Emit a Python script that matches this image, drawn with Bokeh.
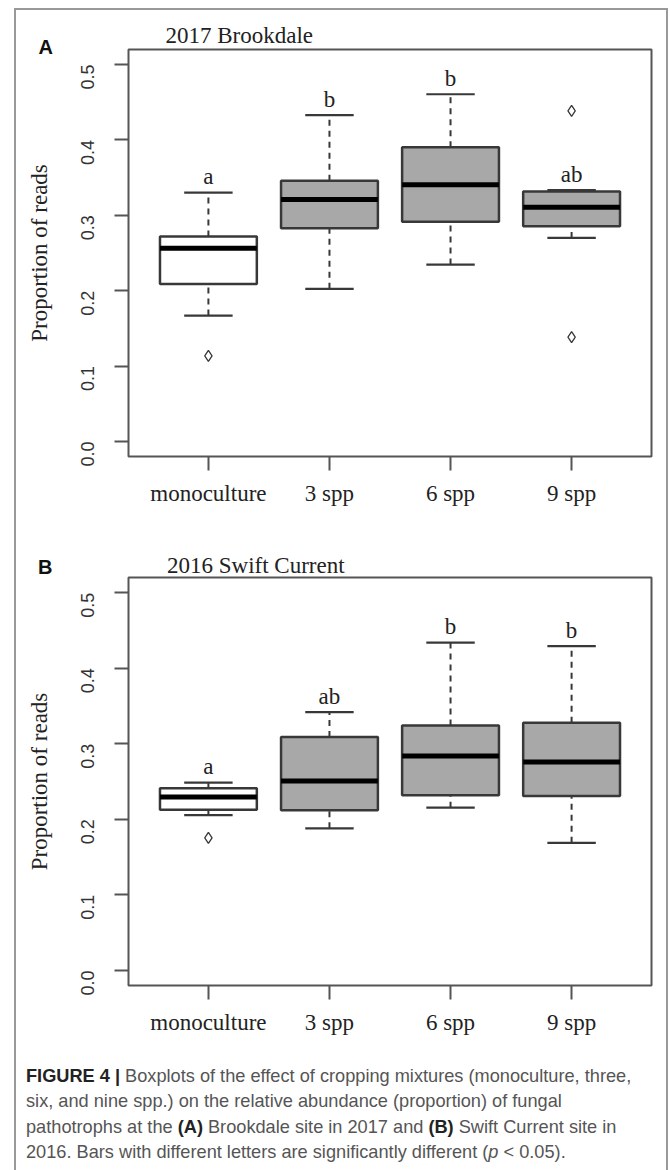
import math
from bokeh.plotting import figure
from bokeh.layouts import column
from bokeh.models import ColumnDataSource, FixedTicker, Title, Div
from bokeh.core.properties import value
from bokeh.embed import file_html
from bokeh.resources import INLINE

# ---------------- data ----------------
categories = ["monoculture", "3 spp", "6 spp", "9 spp"]
y_ticks = [0.0, 0.1, 0.2, 0.3, 0.4, 0.5]

# Panel A: 2017 Brookdale
a_lower = [0.167, 0.2025, 0.2347, 0.270]
a_q1 = [0.209, 0.283, 0.2913, 0.2856]
a_median = [0.2564, 0.321, 0.3404, 0.3108]
a_q3 = [0.272, 0.3457, 0.3903, 0.3316]
a_upper = [0.330, 0.433, 0.4606, 0.3333]
a_out_cat = ["monoculture", "9 spp", "9 spp"]
a_out_val = [0.1136, 0.4385, 0.1384]
a_letters = ["a", "b", "b", "ab"]

# Panel B: 2016 Swift Current
b_lower = [0.2056, 0.188, 0.2153, 0.1688]
b_q1 = [0.2126, 0.2118, 0.2317, 0.2308]
b_median = [0.2294, 0.2507, 0.2838, 0.2759]
b_q3 = [0.241, 0.309, 0.324, 0.3276]
b_upper = [0.2484, 0.3417, 0.4337, 0.4293]
b_out_cat = ["monoculture"]
b_out_val = [0.1755]
b_letters = ["a", "ab", "b", "b"]

SERIF = "Liberation Serif"
SANS = "Liberation Sans"
FRAME = "#555555"
BOXLINE = "#383838"
LETTER_GAP = 0.021  # gap between whisker top and significance letter (data units)


def make_panel(lower, q1, med, q3, upper, out_cat, out_val, letters,
               height, top_b, bottom_b):
    pos = {c: i + 1 for i, c in enumerate(categories)}
    xs = [pos[c] for c in categories]
    fills = ["#ffffff" if i == 0 else "#a8a8a8" for i in range(len(categories))]
    src = ColumnDataSource(dict(
        x=xs, lower=lower, q1=q1, med=med, q3=q3, upper=upper, fill=fills,
        bx0=[x - 0.4 for x in xs], bx1=[x + 0.4 for x in xs],
        sx0=[x - 0.2 for x in xs], sx1=[x + 0.2 for x in xs],
        ly=[max(u, q) + LETTER_GAP for u, q in zip(upper, q3)], lab=letters,
    ))
    p = figure(width=650, height=height, x_range=(0.34, 4.66), y_range=(-0.02, 0.52),
               output_backend="svg", toolbar_location=None, tools="",
               min_border_left=112, min_border_right=15,
               min_border_top=top_b, min_border_bottom=bottom_b)
    p.title.text = ""
    p.grid.visible = False
    p.background_fill_color = "white"
    p.border_fill_color = "white"
    p.outline_line_color = FRAME
    p.outline_line_width = 2

    # whiskers (dashed)
    p.segment("x", "q3", "x", "upper", source=src, line_color=BOXLINE, line_width=2,
              line_dash="6 5")
    p.segment("x", "lower", "x", "q1", source=src, line_color=BOXLINE, line_width=2,
              line_dash="6 5")
    # staples
    p.segment("sx0", "upper", "sx1", "upper", source=src, line_color=BOXLINE, line_width=2.2)
    p.segment("sx0", "lower", "sx1", "lower", source=src, line_color=BOXLINE, line_width=2.2)
    # boxes
    p.vbar(x="x", width=0.8, bottom="q1", top="q3", source=src, fill_color="fill",
           line_color=BOXLINE, line_width=2.5)
    # medians
    p.segment("bx0", "med", "bx1", "med", source=src, line_color="black", line_width=5)
    # outliers
    p.scatter([pos[c] for c in out_cat], out_val, marker="diamond", size=11,
              fill_color=None, line_color=BOXLINE, line_width=1.3)
    # significance letters
    p.text(x="x", y="ly", text="lab", source=src, text_font=value(SERIF),
           text_font_size="23px", text_align="center", text_baseline="alphabetic",
           text_color="#222222")

    # axes
    p.xaxis.ticker = FixedTicker(ticks=xs)
    p.xaxis.major_label_overrides = {pos[c]: c for c in categories}
    p.xaxis.major_label_text_font = SERIF
    p.xaxis.major_label_text_font_size = "23px"
    p.xaxis.major_label_text_color = "#222222"
    p.xaxis.major_label_standoff = 10
    p.xaxis.major_tick_in = 0
    p.xaxis.major_tick_out = 14
    p.xaxis.minor_tick_line_color = None
    p.xaxis.axis_line_color = None
    p.xaxis.major_tick_line_color = FRAME
    p.xaxis.major_tick_line_width = 2

    p.yaxis.ticker = FixedTicker(ticks=y_ticks)
    p.yaxis.major_label_overrides = {t: f"{t:.1f}" for t in y_ticks}
    p.yaxis.major_label_orientation = math.pi / 2
    p.yaxis.major_label_text_font = SANS
    p.yaxis.major_label_text_font_size = "18px"
    p.yaxis.major_label_text_color = "#333333"
    p.yaxis.major_label_standoff = 27
    p.yaxis.major_tick_in = 0
    p.yaxis.major_tick_out = 14
    p.yaxis.minor_tick_line_color = None
    p.yaxis.axis_line_color = None
    p.yaxis.major_tick_line_color = FRAME
    p.yaxis.major_tick_line_width = 2
    p.yaxis.axis_label = "Proportion of reads"
    p.yaxis.axis_label_text_font = SERIF
    p.yaxis.axis_label_text_font_size = "23px"
    p.yaxis.axis_label_text_font_style = "normal"
    p.yaxis.axis_label_text_color = "#222222"
    p.yaxis.axis_label_standoff = 20
    return p


# Panel A (figure spans page y 10..529)
pA = make_panel(a_lower, a_q1, a_median, a_q3, a_upper, a_out_cat, a_out_val, a_letters,
                height=519, top_b=39, bottom_b=73)
pA.title.text = "2017 Brookdale"
pA.title.text_font = SERIF
pA.title.text_font_size = "23px"
pA.title.text_font_style = "normal"
pA.title.text_color = "#222222"
pA.title.align = "left"
pA.title.offset = 37
pA.title.standoff = -12
pA.add_layout(Title(text="A", text_font=SANS, text_font_size="20px",
                    text_font_style="bold", text_color="#111111", align="left",
                    offset=-90, standoff=-16), "above")

# Panel B header (page y 529..576) and figure (576..1055)
headB = Div(width=650, height=47, margin=0, styles={"overflow": "visible"}, text=(
    '<div style="position:relative;width:650px;height:47px;">'
    '<span style="position:absolute;left:22px;top:28px;font-family:\'Liberation Sans\';'
    'font-weight:bold;font-size:20px;line-height:20px;color:#111;">B</span>'
    '<span style="position:absolute;left:151px;top:25px;font-family:\'Liberation Serif\';'
    'font-size:23px;line-height:23px;color:#222;white-space:nowrap;">2016 Swift Current</span>'
    '</div>'))
pB = make_panel(b_lower, b_q1, b_median, b_q3, b_upper, b_out_cat, b_out_val, b_letters,
                height=479, top_b=1, bottom_b=70)

caption_html = (
    '<div style="width:650px;height:115px;box-sizing:border-box;'
    'padding-left:10px;padding-top:9px;font-family:\'Liberation Sans\';font-size:18.2px;'
    'line-height:25.3px;color:#555555;white-space:nowrap;">'
    '<b style="color:#222">FIGURE 4 |</b> Boxplots of the effect of cropping mixtures (monoculture, three,<br>'
    'six, and nine spp.) on the relative abundance (proportion) of fungal<br>'
    'pathotrophs at the <b style="color:#222">(A)</b> Brookdale site in 2017 and '
    '<b style="color:#222">(B)</b> Swift Current site in<br>'
    '2016. Bars with different letters are significantly different (<i>p</i> &lt; 0.05).'
    '</div>'
)
cap = Div(text=caption_html, width=650, height=115, margin=0)

layout = column(pA, headB, pB, cap, spacing=0,
                styles={"margin-left": "14px", "margin-top": "8px",
                        "border-top": "2px solid #999999", "border-left": "2px solid #999999",
                        "border-right": "2px solid #999999", "box-sizing": "content-box"})
open("out.html", "w").write(file_html(layout, INLINE))
